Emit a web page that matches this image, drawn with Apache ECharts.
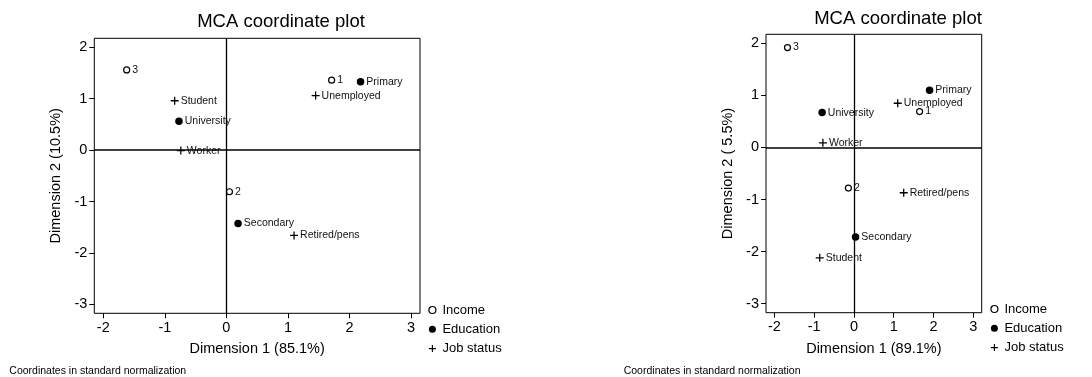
<!DOCTYPE html>
<html>
<head>
<meta charset="utf-8">
<script src="https://cdn.jsdelivr.net/npm/echarts@6/dist/echarts.min.js"></script>
<style>
  html, body { margin: 0; padding: 0; background: #fff; }
  #chart { width: 1092px; height: 377px; }
</style>
</head>
<body>
<div id="chart"></div>
<script>
// Category labels for the three variables
const incomeCats = ['1', '2', '3'];
const educationCats = ['Primary', 'Secondary', 'University'];
const jobCats = ['Unemployed', 'Retired/pens', 'Worker', 'Student'];

// Left plot: coordinates on dimensions 1 and 2
const leftIncomeDim1 = [1.71, 0.05, -1.62];
const leftIncomeDim2 = [1.36, -0.81, 1.56];
const leftEducationDim1 = [2.18, 0.19, -0.77];
const leftEducationDim2 = [1.33, -1.43, 0.56];
const leftJobDim1 = [1.45, 1.10, -0.74, -0.84];
const leftJobDim2 = [1.06, -1.66, -0.01, 0.96];

// Right plot: coordinates on dimensions 1 and 2
const rightIncomeDim1 = [1.65, -0.14, -1.67];
const rightIncomeDim2 = [0.69, -0.78, 1.92];
const rightEducationDim1 = [1.90, 0.04, -0.80];
const rightEducationDim2 = [1.10, -1.72, 0.67];
const rightJobDim1 = [1.10, 1.25, -0.78, -0.86];
const rightJobDim2 = [0.85, -0.87, 0.09, -2.12];

// Axis ticks and titles
const xTicks = [-2, -1, 0, 1, 2, 3];
const yTicks = [-3, -2, -1, 0, 1, 2];
const leftXTitle = 'Dimension 1 (85.1%)';
const leftYTitle = 'Dimension 2 (10.5%)';
const rightXTitle = 'Dimension 1 (89.1%)';
const rightYTitle = 'Dimension 2 ( 5.5%)';
const plotTitle = 'MCA coordinate plot';
const footnote = 'Coordinates in standard normalization';
const seriesNames = ['Income', 'Education', 'Job status'];

const FONT = '"Liberation Sans", Arial, Helvetica, sans-serif';
const PLUS = 'path://M4.2,0H5.8V4.2H10V5.8H5.8V10H4.2V5.8H0V4.2H4.2Z';

function points(xs, ys, names) {
  return xs.map((x, i) => ({ value: [x, ys[i]], name: names[i] }));
}

const markerStyles = {
  'Income': { symbol: 'circle', symbolSize: 6, itemStyle: { color: '#fff', borderColor: '#000', borderWidth: 1.2, opacity: 1 } },
  'Education': { symbol: 'circle', symbolSize: 7.5, itemStyle: { color: '#000', opacity: 1 } },
  'Job status': { symbol: PLUS, symbolSize: 8, itemStyle: { color: '#000', opacity: 1 } }
};

function scatter(name, idx, data, withAxesLines) {
  const s = {
    type: 'scatter',
    name: name,
    xAxisIndex: idx,
    yAxisIndex: idx,
    symbol: markerStyles[name].symbol,
    symbolSize: markerStyles[name].symbolSize,
    itemStyle: markerStyles[name].itemStyle,
    data: data,
    silent: true,
    label: {
      show: true,
      position: 'right',
      distance: 2,
      formatter: '{b}',
      fontFamily: FONT,
      fontSize: 10.5,
      color: '#111'
    },
    emphasis: { disabled: true }
  };
  if (withAxesLines) {
    // Reference lines through the origin, drawn above the point labels
    s.markLine = {
      silent: true,
      symbol: 'none',
      animation: false,
      label: { show: false },
      data: [
        { xAxis: 0, lineStyle: { color: '#000', width: 1.3, type: 'solid', opacity: 1 } },
        { yAxis: 0, lineStyle: { color: '#000', width: 1.7, type: 'solid', opacity: 1 } }
      ]
    };
  }
  return s;
}

function xAxis(idx, min, max, title) {
  return {
    type: 'value', gridIndex: idx, min: min, max: max, position: 'bottom',
    name: title, nameLocation: 'middle', nameGap: 28.5,
    nameTextStyle: { fontFamily: FONT, fontSize: 14.5, color: '#000' },
    axisLine: { show: false, onZero: false },
    axisTick: { show: true, length: 5, customValues: xTicks, lineStyle: { color: '#000', width: 1 } },
    axisLabel: { customValues: xTicks, margin: 7, fontFamily: FONT, fontSize: 14.5, color: '#000' },
    splitLine: { show: false }
  };
}

function yAxis(idx, min, max, title) {
  return {
    type: 'value', gridIndex: idx, min: min, max: max, position: 'left',
    name: title, nameLocation: 'middle', nameGap: 31,
    nameTextStyle: { fontFamily: FONT, fontSize: 14.5, color: '#000' },
    axisLine: { show: false, onZero: false },
    axisTick: { show: true, length: 5, customValues: yTicks, lineStyle: { color: '#000', width: 1 } },
    axisLabel: { customValues: yTicks, margin: 7, fontFamily: FONT, fontSize: 14.5, color: '#000' },
    splitLine: { show: false }
  };
}

function legend(left, top) {
  return {
    orient: 'vertical', left: left, top: top, padding: 0,
    itemWidth: 10, itemHeight: 7, itemGap: 5.3,
    selectedMode: false,
    textStyle: { fontFamily: FONT, fontSize: 13, color: '#000', lineHeight: 14 },
    data: [
      { name: seriesNames[0], icon: 'circle', itemStyle: { color: '#fff', borderColor: '#000', borderWidth: 1.2, opacity: 1 } },
      { name: seriesNames[1], icon: 'circle', itemStyle: { color: '#000', opacity: 1 } },
      { name: seriesNames[2], icon: PLUS, itemStyle: { color: '#000', opacity: 1 } }
    ]
  };
}

const chart = echarts.init(document.getElementById('chart'), null, { renderer: 'canvas' });

chart.setOption({
  animation: false,
  backgroundColor: '#fff',
  grid: [
    { left: 94.3, top: 38.3, width: 325.7, height: 275, show: true, borderColor: '#000', borderWidth: 1, backgroundColor: 'transparent' },
    { left: 766, top: 34.3, width: 215.7, height: 278.4, show: true, borderColor: '#000', borderWidth: 1, backgroundColor: 'transparent' }
  ],
  xAxis: [
    xAxis(0, -2.146, 3.146, leftXTitle),
    xAxis(1, -2.21, 3.21, rightXTitle)
  ],
  yAxis: [
    yAxis(0, -3.175, 2.175, leftYTitle),
    yAxis(1, -3.175, 2.175, rightYTitle)
  ],
  legend: [legend(428.3, 303), legend(990.3, 302)],
  series: [
    scatter('Income', 0, points(leftIncomeDim1, leftIncomeDim2, incomeCats), true),
    scatter('Education', 0, points(leftEducationDim1, leftEducationDim2, educationCats), false),
    scatter('Job status', 0, points(leftJobDim1, leftJobDim2, jobCats), false),
    scatter('Income', 1, points(rightIncomeDim1, rightIncomeDim2, incomeCats), true),
    scatter('Education', 1, points(rightEducationDim1, rightEducationDim2, educationCats), false),
    scatter('Job status', 1, points(rightJobDim1, rightJobDim2, jobCats), false)
  ],
  graphic: [
    { type: 'text', silent: true, style: { text: plotTitle, x: 281, y: 22, align: 'center', verticalAlign: 'middle', font: '18.5px ' + FONT, fill: '#000' } },
    { type: 'text', silent: true, style: { text: plotTitle, x: 898, y: 19.3, align: 'center', verticalAlign: 'middle', font: '18.5px ' + FONT, fill: '#000' } },
    { type: 'text', silent: true, style: { text: footnote, x: 9.3, y: 371.5, align: 'left', verticalAlign: 'middle', font: '10.5px ' + FONT, fill: '#000' } },
    { type: 'text', silent: true, style: { text: footnote, x: 623.7, y: 371.5, align: 'left', verticalAlign: 'middle', font: '10.5px ' + FONT, fill: '#000' } }
  ]
});
</script>
</body>
</html>
